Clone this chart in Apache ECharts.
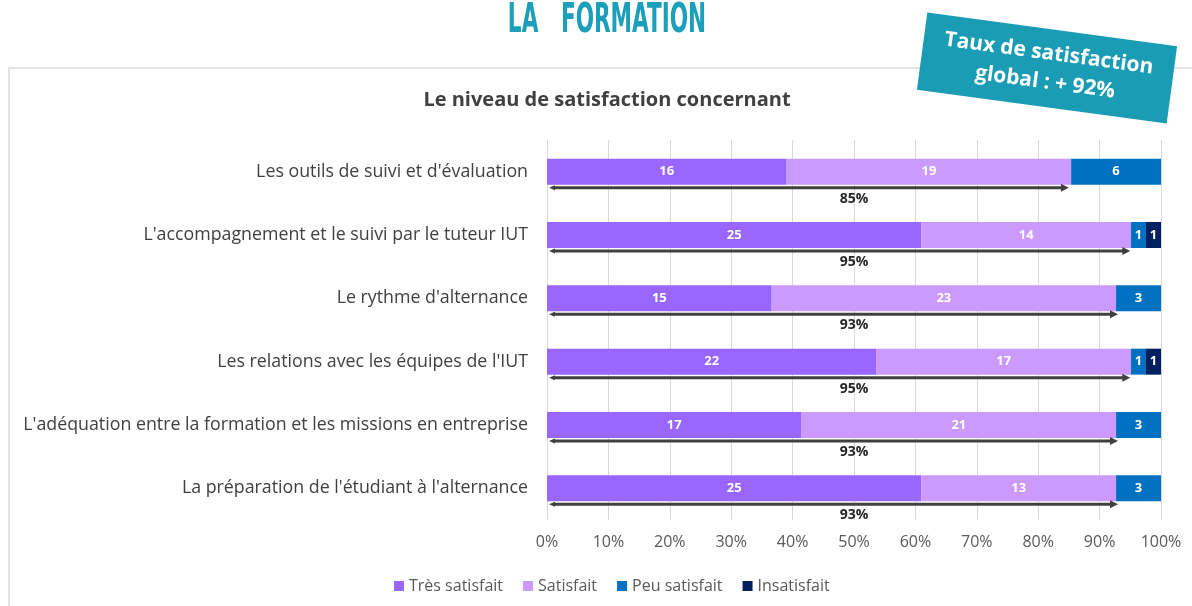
<!DOCTYPE html>
<html>
<head>
<meta charset="utf-8">
<script src="https://cdn.jsdelivr.net/npm/echarts@6/dist/echarts.min.js"></script>
<style>
html,body{margin:0;padding:0;background:#fff;}
#c{width:1192px;height:606px;}
</style>
</head>
<body>
<div id="c"></div>
<script>
var categories = [
  "Les outils de suivi et d'évaluation",
  "L'accompagnement et le suivi par le tuteur IUT",
  "Le rythme d'alternance",
  "Les relations avec les équipes de l'IUT",
  "L'adéquation entre la formation et les missions en entreprise",
  "La préparation de l'étudiant à l'alternance"
];
var tresSatisfait = [16, 25, 15, 22, 17, 25];
var satisfait     = [19, 14, 23, 17, 21, 13];
var peuSatisfait  = [6, 1, 3, 1, 3, 3];
var insatisfait   = [0, 1, 0, 1, 0, 0];
var satisfactionPct = [85, 95, 93, 95, 93, 93];
var seriesNames = ["Très satisfait", "Satisfait", "Peu satisfait", "Insatisfait"];
var xTicks = [0, 10, 20, 30, 40, 50, 60, 70, 80, 90, 100];

var FONT = "'Open Sans', 'Noto Sans', sans-serif";
var colors = ['#9966FF', '#CC99FF', '#0070C0', '#002060'];
var counts = [tresSatisfait, satisfait, peuSatisfait, insatisfait];
var totals = categories.map(function (c, i) {
  return tresSatisfait[i] + satisfait[i] + peuSatisfait[i] + insatisfait[i];
});

var barSeries = counts.map(function (arr, s) {
  return {
    name: seriesNames[s],
    type: 'bar',
    stack: 'all',
    barWidth: 26,
    itemStyle: { color: colors[s] },
    label: {
      show: true,
      position: 'inside',
      color: '#fff',
      fontFamily: FONT,
      fontWeight: 'bold',
      fontSize: 13,
      formatter: function (p) { return p.data.count > 0 ? String(p.data.count) : ''; }
    },
    data: arr.map(function (v, i) { return { value: v / totals[i] * 100, count: v }; })
  };
});

var arrowData = satisfactionPct.map(function (p, i) { return [p, i]; });

var arrowSeries = {
  type: 'custom',
  name: 'arrows',
  silent: true,
  z: 5,
  encode: { x: 0, y: 1 },
  data: arrowData,
  renderItem: function (params, api) {
    var pct = api.value(0);
    var idx = api.value(1);
    var s = api.coord([0, idx]);
    var e = api.coord([pct, idx]);
    var mid = api.coord([50, idx]);
    var y = s[1] + 16;
    var x0 = s[0] + 2, x1 = e[0];
    return {
      type: 'group',
      children: [
        { type: 'line', shape: { x1: x0 + 4, y1: y, x2: x1 - 5, y2: y }, style: { stroke: '#404040', lineWidth: 3 } },
        { type: 'polygon', shape: { points: [[x1, y], [x1 - 8, y - 4], [x1 - 8, y + 4]] }, style: { fill: '#404040' } },
        { type: 'polygon', shape: { points: [[x0, y], [x0 + 6, y - 2.5], [x0 + 6, y + 2.5]] }, style: { fill: '#404040' } },
        { type: 'text', style: { text: pct + '%', x: mid[0], y: y + 11, align: 'center', verticalAlign: 'middle', fill: '#262626', font: 'bold 14px ' + FONT } }
      ]
    };
  }
};

var chart = echarts.init(document.getElementById('c'), null, { renderer: 'canvas' });
chart.setOption({
  backgroundColor: '#fff',
  animation: false,
  grid: { left: 547, right: 31, top: 140, bottom: 86 },
  xAxis: {
    type: 'value',
    min: 0, max: 100, interval: 10,
    axisLine: { show: false },
    axisTick: { show: false },
    splitLine: { show: true, lineStyle: { color: '#d9d9d9', width: 1 } },
    axisLabel: {
      color: '#595959', fontFamily: FONT, fontSize: 16, margin: 14,
      formatter: function (v) { return xTicks.indexOf(v) >= 0 ? v + '%' : ''; }
    }
  },
  yAxis: {
    type: 'category',
    inverse: true,
    data: categories,
    axisLine: { show: false },
    axisTick: { show: false },
    axisLabel: { color: '#404040', fontFamily: FONT, fontSize: 17.8, margin: 19 }
  },
  legend: {
    data: seriesNames,
    top: 573,
    left: 389,
    icon: 'rect',
    itemWidth: 10,
    itemHeight: 10,
    itemGap: 20,
    textStyle: { color: '#595959', fontFamily: FONT, fontSize: 16 }
  },
  graphic: [
    { type: 'rect', z: -10, silent: true, shape: { x: 9, y: 68, width: 1200, height: 560 }, style: { fill: 'none', stroke: '#dcdcdc', lineWidth: 1.5 } },
    { type: 'text', silent: true, x: 607, y: 22, scaleX: 0.6, style: { text: 'LA   FORMATION', align: 'center', verticalAlign: 'middle', fill: '#1b9fba', font: 'bold 40px "DejaVu Sans Condensed", sans-serif' } },
    { type: 'text', silent: true, x: 607, y: 100, style: { text: 'Le niveau de satisfaction concernant', align: 'center', verticalAlign: 'middle', fill: '#404040', font: 'bold 20px ' + FONT } },
    {
      type: 'group', x: 1047, y: 68, rotation: -0.134, silent: true, z: 20,
      children: [
        { type: 'rect', shape: { x: -126, y: -39, width: 252, height: 78 }, style: { fill: '#1a9cb5' } },
        { type: 'text', style: { text: 'Taux de satisfaction\nglobal : + 92%', x: 0, y: 0, align: 'center', verticalAlign: 'middle', fill: '#fff', font: 'bold 21px ' + FONT, lineHeight: 29 } }
      ]
    }
  ],
  series: barSeries.concat([arrowSeries])
});
</script>
</body>
</html>
